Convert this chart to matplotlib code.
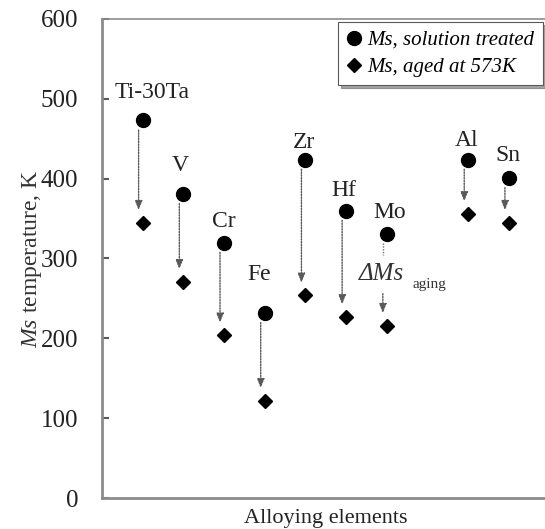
import numpy as np
import matplotlib
matplotlib.use("Agg")
from matplotlib import pyplot as plt
from matplotlib.lines import Line2D
from matplotlib.transforms import ScaledTranslation

plt.rcParams['font.family'] = 'serif'
plt.rcParams['font.serif'] = ['Liberation Serif', 'DejaVu Serif']
plt.rcParams['mathtext.fontset'] = 'custom'
plt.rcParams['mathtext.rm'] = 'Liberation Serif'
plt.rcParams['mathtext.it'] = 'Liberation Serif:italic'

# alloying elements and their Ms temperatures (K)
elements = ['Ti-30Ta', 'V', 'Cr', 'Fe', 'Zr', 'Hf', 'Mo', 'Al', 'Sn']
x_pos = [1, 2, 3, 4, 5, 6, 7, 9, 10]
ms_solution = [473, 381, 320, 232, 424, 360, 331, 424, 401]
ms_aged = [345, 271, 204, 122, 254, 227, 216, 356, 345]

# label offsets from the solution-treated point, in pixels
label_dx = [9, -3, 0, -6, -1, -2, 3, -2, -1]
label_dy = [28, 28, 21, 38, 17, 20, 21, 19, 22]

fig = plt.figure(figsize=(5.45, 5.29), dpi=100)
ax = fig.add_axes([0.187, 0.0586, 0.8215, 0.9055])

ax.set_xlim(0, 11)
ax.set_ylim(0, 600)

shift = ax.transData + ScaledTranslation(-4 / 100, 0, fig.dpi_scale_trans)
arrow_kw = dict(arrowstyle='-|>,head_length=0.55,head_width=0.22',
                linestyle=(0, (1, 1)), color='0.35', lw=1.0)

for i, el in enumerate(elements):
    x = x_pos[i]
    if el == 'Mo':
        # broken arrow around the ΔMs label
        ax.plot([x, x], [ms_solution[i] - 12, 305], ls=(0, (1, 1)),
                color='0.45', lw=1.0, transform=shift)
        ax.annotate('', xy=(x, ms_aged[i]), xytext=(x, 256),
                    xycoords=shift, textcoords=shift,
                    arrowprops=dict(shrinkA=0, shrinkB=9, **arrow_kw))
    else:
        ax.annotate('', xy=(x, ms_aged[i]), xytext=(x, ms_solution[i]),
                    xycoords=shift, textcoords=shift,
                    arrowprops=dict(shrinkA=7, shrinkB=9, **arrow_kw))
    ax.annotate(el, (x, ms_solution[i]), xytext=(label_dx[i], label_dy[i]),
                textcoords='offset pixels', ha='center', va='center',
                fontsize=17, color='#222')

ax.plot(x_pos, ms_solution, 'o', color='black', ms=10, ls='none', zorder=5)
ax.plot(x_pos, ms_aged, 'D', color='black', ms=7.5, ls='none', zorder=5)

ax.text(6.3, 280, 'ΔMs', fontsize=18, style='italic', color='#333',
        ha='left', va='center')
ax.text(7.62, 267, 'aging', fontsize=11, color='#333', ha='left', va='center')

for side in ['left', 'bottom', 'top', 'right']:
    ax.spines[side].set_color('0.55')
ax.spines['left'].set_linewidth(2)
ax.spines['bottom'].set_linewidth(2)
ax.spines['top'].set_linewidth(1.2)

ax.set_xticks([])
ax.set_yticks(np.arange(0, 601, 100))
ax.tick_params(axis='y', direction='in', length=5, width=1.5, color='0.35',
               labelsize=18, labelcolor='#222', pad=17)

ax.set_ylabel(r'$\mathit{Ms}$ temperature, K', fontsize=17, color='#333',
              labelpad=-2)
ax.set_xlabel('Alloying elements', fontsize=16, color='#222', labelpad=8)

handles = [
    Line2D([], [], marker='o', color='black', ls='none', ms=10),
    Line2D([], [], marker='D', color='black', ls='none', ms=7),
]
leg = ax.legend(handles, ['Ms, solution treated', 'Ms, aged at 573K'],
                loc='upper left', bbox_to_anchor=(338 / 545, 1 - 22 / 529),
                bbox_transform=fig.transFigure, borderaxespad=0,
                frameon=True, fancybox=False,
                shadow=True, handlelength=0.7, handletextpad=0.3,
                borderpad=0.4, labelspacing=0.35,
                prop={'family': 'Liberation Serif', 'style': 'italic',
                      'size': 15})
leg.get_frame().set_edgecolor('0.35')
leg.get_frame().set_linewidth(0.8)

fig.savefig('out.png', dpi=100)
